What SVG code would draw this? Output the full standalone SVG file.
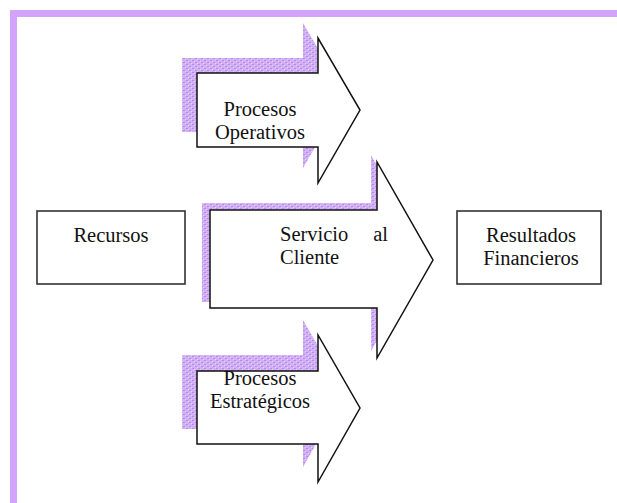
<svg xmlns="http://www.w3.org/2000/svg" width="617" height="503" viewBox="0 0 617 503">
  <defs>
    <pattern id="stip" width="6" height="4" patternUnits="userSpaceOnUse">
      <rect width="6" height="4" fill="#d2b0f5"/>
      <rect x="0" y="0" width="2" height="1" fill="#b98ae8"/>
      <rect x="3" y="2" width="2" height="1" fill="#b98ae8"/>
      <rect x="2" y="1" width="1" height="1" fill="#e6d2fa"/>
      <rect x="5" y="3" width="1" height="1" fill="#e6d2fa"/>
    </pattern>
  </defs>
  <style>
    .frame { fill: #d3a3fd; }
    .box { fill: #ffffff; stroke: #333333; stroke-width: 1.6; }
    .arrow { fill: #ffffff; stroke: #111111; stroke-width: 1.5; stroke-linejoin: miter; }
    .shadow { fill: url(#stip); }
    .t { font-family: "Liberation Serif", "Times New Roman", serif; font-size: 20.5px; fill: #111111; }
  </style>
  <rect width="617" height="503" fill="#ffffff"/>
  <g id="frame">
    <rect class="frame" x="10" y="10" width="607" height="7"/>
    <rect class="frame" x="10" y="10" width="7" height="493"/>
  </g>
  <g id="connectors">
    <g id="arrow-operativos">
      <polygon class="shadow" points="182,58 303,58 303,23 345,95 303,168 303,132 182,132"/>
      <polygon class="arrow" points="197,73 318,73 318,38 360,110 318,183 318,147 197,147"/>
    </g>
    <g id="arrow-servicio">
      <polygon class="shadow" points="202,203 371,203 371,155 427,253 371,351 371,302 202,302"/>
      <polygon class="arrow" points="210,210 377,210 377,162 433,260 377,358 377,308 210,308"/>
    </g>
    <g id="arrow-estrategicos">
      <polygon class="shadow" points="182,355 303,355 303,320 345,393 303,467 303,429 182,429"/>
      <polygon class="arrow" points="197,371 318,371 318,335 360,408 318,482 318,444 197,444"/>
    </g>
  </g>
  <g id="node-operativos">
    <text class="t" x="260" y="116" text-anchor="middle">Procesos</text>
    <text class="t" x="260" y="139" text-anchor="middle">Operativos</text>
  </g>
  <g id="node-servicio">
    <text class="t" x="280" y="241">Servicio</text>
    <text class="t" x="388" y="241" text-anchor="end">al</text>
    <text class="t" x="280" y="264">Cliente</text>
  </g>
  <g id="node-estrategicos">
    <text class="t" x="260" y="385" text-anchor="middle">Procesos</text>
    <text class="t" x="260" y="408" text-anchor="middle">Estratégicos</text>
  </g>
  <g id="node-recursos">
    <rect class="box" x="37" y="211" width="148" height="73"/>
    <text class="t" x="111" y="242" text-anchor="middle">Recursos</text>
  </g>
  <g id="node-resultados">
    <rect class="box" x="457" y="211" width="144" height="73"/>
    <text class="t" x="531" y="242" text-anchor="middle">Resultados</text>
    <text class="t" x="531" y="265" text-anchor="middle">Financieros</text>
  </g>
</svg>
